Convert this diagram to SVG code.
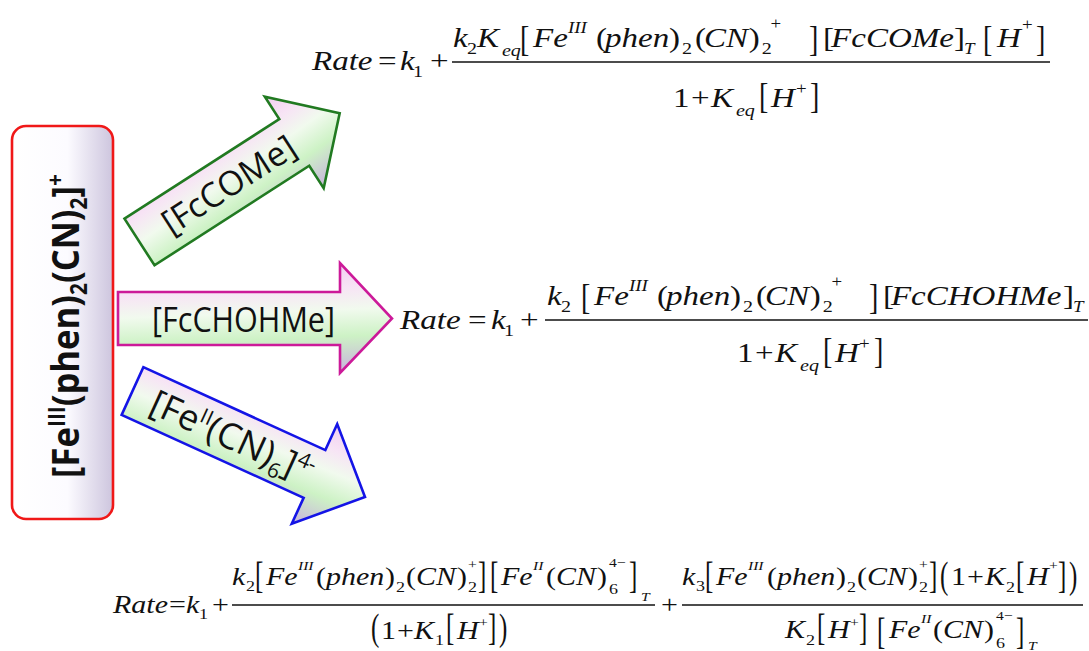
<svg xmlns="http://www.w3.org/2000/svg" width="1089" height="651" viewBox="0 0 1089 651">
<defs>
<linearGradient id="gArrow" x1="0" y1="0" x2="0.1" y2="1">
<stop offset="0" stop-color="#f0c6ee"/>
<stop offset="0.3" stop-color="#f7e4f5"/>
<stop offset="0.5" stop-color="#f1faee"/>
<stop offset="0.74" stop-color="#cdf2c5"/>
<stop offset="1" stop-color="#cabfd9"/>
</linearGradient>
<linearGradient id="gBox" x1="0" y1="0" x2="1" y2="0">
<stop offset="0" stop-color="#ffffff"/>
<stop offset="0.55" stop-color="#fcfbff"/>
<stop offset="1" stop-color="#cdc5de"/>
</linearGradient>
</defs>
<style>
.m{font-family:"Liberation Serif","Times New Roman",serif;fill:#111}
.i{font-style:italic}
.a28{font-size:28px}
.s17{font-size:17px}
.s16{font-size:16px}
.a25{font-size:25px}
.s15{font-size:15px}
.s13{font-size:13px}
.lbl{font-family:"Open Sans","Noto Sans","Liberation Sans",sans-serif;fill:#111}
.arrow{fill:url(#gArrow);stroke-width:2.6;stroke-linejoin:miter}
.frac{stroke:#111;stroke-width:1.3}
</style>
<rect width="1089" height="651" fill="#ffffff"/>

<g id="reactant">
<rect x="12" y="126" width="101" height="393" rx="14" fill="url(#gBox)" stroke="#f01818" stroke-width="2.6"/>
<text class="lbl" font-weight="700" font-size="38" text-anchor="middle" transform="translate(79,326) rotate(-90) scale(0.91,1)">[Fe<tspan font-size="23" dy="-14">III</tspan><tspan dy="14">(phen)</tspan><tspan font-size="23" dy="8">2</tspan><tspan dy="-8">(CN)</tspan><tspan font-size="23" dy="8">2</tspan><tspan dy="-8">]</tspan><tspan font-size="23" dy="-15">+</tspan></text>
</g>

<g id="connectors">
<g id="arrow-fccome" transform="translate(139.5,242) rotate(-32.75)">
<polygon class="arrow" stroke="#217a21" points="0,-27.7 184,-27.7 184,-54.4 238,0 184,54.4 184,27.7 0,27.7"/>
<text class="lbl" font-size="34" x="30" y="12" textLength="152" lengthAdjust="spacingAndGlyphs">[FcCOMe]</text>
</g>
<g id="arrow-fcchohme" transform="translate(118,318.5)">
<polygon class="arrow" stroke="#cc1a99" points="0,-26.5 222,-26.5 222,-55.5 274,0 222,54.5 222,26.5 0,26.5"/>
<text class="lbl" font-size="34" x="34" y="13.5" textLength="183" lengthAdjust="spacingAndGlyphs">[FcCHOHMe]</text>
</g>
<g id="arrow-ferrocyanide" transform="translate(132.5,391) rotate(24.5)">
<polygon class="arrow" stroke="#1414e6" points="0,-26.2 200,-26.2 200,-54.8 255.5,0 200,54.8 200,26.2 0,26.2"/>
<text class="lbl" font-size="36" transform="translate(22,13)">[Fe<tspan font-size="21" dy="-13">II</tspan><tspan dy="13">(CN)</tspan><tspan font-size="21" dy="8">6</tspan><tspan dy="-8">]</tspan><tspan font-size="21" dy="-14">4-</tspan></text>
</g>
</g>

<g id="rate-fccome">
<line class="frac" x1="452" y1="62" x2="1050" y2="62"/>
<g transform="scale(1.18,1)">
<text class="m a28">
<tspan class="i" x="264.4" y="70">Rate</tspan>
<tspan x="320.3" y="70">=</tspan>
<tspan class="i" x="339" y="70">k</tspan>
<tspan class="s17" x="350" y="77">1</tspan>
<tspan x="364.4" y="70">+</tspan>
<tspan class="i" x="383.9" y="47">k</tspan>
<tspan class="s17" x="395.8" y="54">2</tspan>
<tspan class="i" x="404.2" y="47">K</tspan>
<tspan class="i s17" x="425.4" y="56">eq</tspan>
<tspan class="i" x="451.7" y="47">Fe</tspan>
<tspan class="i s16" x="481.4" y="33">III</tspan>
<tspan x="505.1" y="47">(</tspan>
<tspan class="i" x="512.7" y="47">phen</tspan>
<tspan x="566.9" y="47">)</tspan>
<tspan class="s17" x="578" y="54">2</tspan>
<tspan x="589" y="47">(</tspan>
<tspan class="i" x="596.6" y="47">CN</tspan>
<tspan x="634.5" y="47">)</tspan>
<tspan class="s17" x="645.5" y="54">2</tspan>
<tspan class="s16" x="653" y="29">+</tspan>
<tspan x="697.5" y="47">[</tspan>
<tspan class="i" x="704.3" y="47">FcCOMe</tspan>
<tspan x="808.5" y="47">]</tspan>
<tspan class="i s16" x="817" y="54">T</tspan>
<tspan class="i" x="844.9" y="47">H</tspan>
<tspan class="s16" x="866.1" y="30">+</tspan>
<tspan x="570.3" y="107">1</tspan>
<tspan x="585.6" y="107">+</tspan>
<tspan class="i" x="602.5" y="107">K</tspan>
<tspan class="i s17" x="623.7" y="116">eq</tspan>
<tspan class="i" x="653.4" y="107">H</tspan>
<tspan class="s16" x="674.6" y="94">+</tspan>
</text>
</g>
<g transform="scale(1,1.3)">
<text class="m a28">
<tspan x="520" y="39.23">[</tspan>
<tspan x="809" y="39.23">]</tspan>
<tspan x="983" y="39.23">[</tspan>
<tspan x="1036" y="39.23">]</tspan>
<tspan x="759" y="83.08">[</tspan>
<tspan x="810" y="83.08">]</tspan>
</text>
</g>
</g>

<g id="rate-fcchohme">
<line class="frac" x1="545" y1="320" x2="1088" y2="320"/>
<g transform="scale(1.18,1)">
<text class="m a28">
<tspan class="i" x="339" y="329">Rate</tspan>
<tspan x="396.6" y="329">=</tspan>
<tspan class="i" x="416.1" y="329">k</tspan>
<tspan class="s17" x="427.1" y="336">1</tspan>
<tspan x="440.7" y="329">+</tspan>
<tspan class="i" x="463.6" y="305">k</tspan>
<tspan class="s17" x="475.4" y="312">2</tspan>
<tspan class="i" x="503.4" y="305">Fe</tspan>
<tspan class="i s16" x="533.1" y="291">III</tspan>
<tspan x="556.8" y="305">(</tspan>
<tspan class="i" x="564.4" y="305">phen</tspan>
<tspan x="618.6" y="305">)</tspan>
<tspan class="s17" x="629.7" y="312">2</tspan>
<tspan x="640.7" y="305">(</tspan>
<tspan class="i" x="648.3" y="305">CN</tspan>
<tspan x="686.2" y="305">)</tspan>
<tspan class="s17" x="697.2" y="312">2</tspan>
<tspan class="s16" x="704.7" y="287">+</tspan>
<tspan x="748.3" y="305">[</tspan>
<tspan class="i" x="755" y="305">FcCHOHMe</tspan>
<tspan x="900.8" y="305">]</tspan>
<tspan class="i s16" x="909.3" y="312">T</tspan>
<tspan x="624.6" y="362">1</tspan>
<tspan x="639.8" y="362">+</tspan>
<tspan class="i" x="656.8" y="362">K</tspan>
<tspan class="i s17" x="678" y="371">eq</tspan>
<tspan class="i" x="707.6" y="362">H</tspan>
<tspan class="s16" x="728" y="349">+</tspan>
</text>
</g>
<g transform="scale(1,1.3)">
<text class="m a28">
<tspan x="581" y="237.69">[</tspan>
<tspan x="869" y="237.69">]</tspan>
<tspan x="823" y="279.23">[</tspan>
<tspan x="874" y="279.23">]</tspan>
</text>
</g>
</g>

<g id="rate-ferrocyanide">
<line class="frac" x1="232" y1="605" x2="655" y2="605"/>
<line class="frac" x1="682" y1="605" x2="1083" y2="605"/>
<g transform="scale(1.2,1)">
<text class="m a25">
<tspan class="i" x="94.17" y="613">Rate</tspan>
<tspan x="140.83" y="613">=</tspan>
<tspan class="i" x="155" y="613">k</tspan>
<tspan class="s15" x="165.83" y="619">1</tspan>
<tspan x="176.67" y="613">+</tspan>
<tspan class="i" x="193.33" y="585">k</tspan>
<tspan class="s15" x="205" y="591">2</tspan>
<tspan class="i" x="221.67" y="585">Fe</tspan>
<tspan class="i s13" x="248.33" y="570">III</tspan>
<tspan x="263.33" y="585">(</tspan>
<tspan class="i" x="271.67" y="585">phen</tspan>
<tspan x="320.83" y="585">)</tspan>
<tspan class="s15" x="330" y="592">2</tspan>
<tspan x="338.33" y="585">(</tspan>
<tspan class="i" x="346.67" y="585">CN</tspan>
<tspan x="380.83" y="585">)</tspan>
<tspan class="s15" x="390" y="592">2</tspan>
<tspan class="s13" x="390" y="569">+</tspan>
<tspan class="i" x="417.5" y="585">Fe</tspan>
<tspan class="i s13" x="444.17" y="570">II</tspan>
<tspan x="455" y="585">(</tspan>
<tspan class="i" x="463.33" y="585">CN</tspan>
<tspan x="497.5" y="585">)</tspan>
<tspan class="s15" x="507.5" y="594">6</tspan>
<tspan class="s13" x="507.5" y="567">4−</tspan>
<tspan class="i s13" x="534.17" y="601">T</tspan>
<tspan x="317.5" y="639">1</tspan>
<tspan x="330.83" y="639">+</tspan>
<tspan class="i" x="345" y="639">K</tspan>
<tspan class="s15" x="362.5" y="645">1</tspan>
<tspan class="i" x="380.83" y="639">H</tspan>
<tspan class="s13" x="399.17" y="627">+</tspan>
<tspan x="550.83" y="613">+</tspan>
<tspan class="i" x="568.33" y="585">k</tspan>
<tspan class="s15" x="580" y="591">3</tspan>
<tspan class="i" x="596.67" y="585">Fe</tspan>
<tspan class="i s13" x="623.33" y="570">III</tspan>
<tspan x="639.17" y="585">(</tspan>
<tspan class="i" x="647.5" y="585">phen</tspan>
<tspan x="696.67" y="585">)</tspan>
<tspan class="s15" x="705.83" y="592">2</tspan>
<tspan x="714.17" y="585">(</tspan>
<tspan class="i" x="722.5" y="585">CN</tspan>
<tspan x="756.67" y="585">)</tspan>
<tspan class="s15" x="765.83" y="592">2</tspan>
<tspan class="s13" x="765.83" y="569">+</tspan>
<tspan x="792.5" y="585">1</tspan>
<tspan x="805.83" y="585">+</tspan>
<tspan class="i" x="820.83" y="585">K</tspan>
<tspan class="s15" x="838.33" y="592">2</tspan>
<tspan class="i" x="855.83" y="585">H</tspan>
<tspan class="s13" x="874.17" y="570">+</tspan>
<tspan class="i" x="654.17" y="638">K</tspan>
<tspan class="s15" x="671.67" y="645">2</tspan>
<tspan class="i" x="690" y="638">H</tspan>
<tspan class="s13" x="708.33" y="627">+</tspan>
<tspan class="i" x="740.83" y="638">Fe</tspan>
<tspan class="i s13" x="767.5" y="623">II</tspan>
<tspan x="777.5" y="638">(</tspan>
<tspan class="i" x="785.83" y="638">CN</tspan>
<tspan x="820" y="638">)</tspan>
<tspan class="s15" x="830" y="648">6</tspan>
<tspan class="s13" x="830" y="620">4−</tspan>
<tspan class="i s13" x="856.67" y="650">T</tspan>
</text>
</g>
<g transform="scale(1,1.5)">
<text class="m a25">
<tspan x="255" y="392.33">[</tspan>
<tspan x="478" y="392.33">]</tspan>
<tspan x="490" y="392.33">[</tspan>
<tspan x="629" y="392.33">]</tspan>
<tspan x="371" y="426.67">(</tspan>
<tspan x="446" y="426.67">[</tspan>
<tspan x="488" y="426.67">]</tspan>
<tspan x="499" y="426.67">)</tspan>
<tspan x="705" y="392.33">[</tspan>
<tspan x="929" y="392.33">]</tspan>
<tspan x="940" y="392.33">(</tspan>
<tspan x="1016" y="392.33">[</tspan>
<tspan x="1058" y="392.33">]</tspan>
<tspan x="1069" y="392.33">)</tspan>
<tspan x="817" y="426.67">[</tspan>
<tspan x="859" y="426.67">]</tspan>
<tspan x="877" y="429.33">[</tspan>
<tspan x="1016" y="429.33">]</tspan>
</text>
</g>
</g>
</svg>
